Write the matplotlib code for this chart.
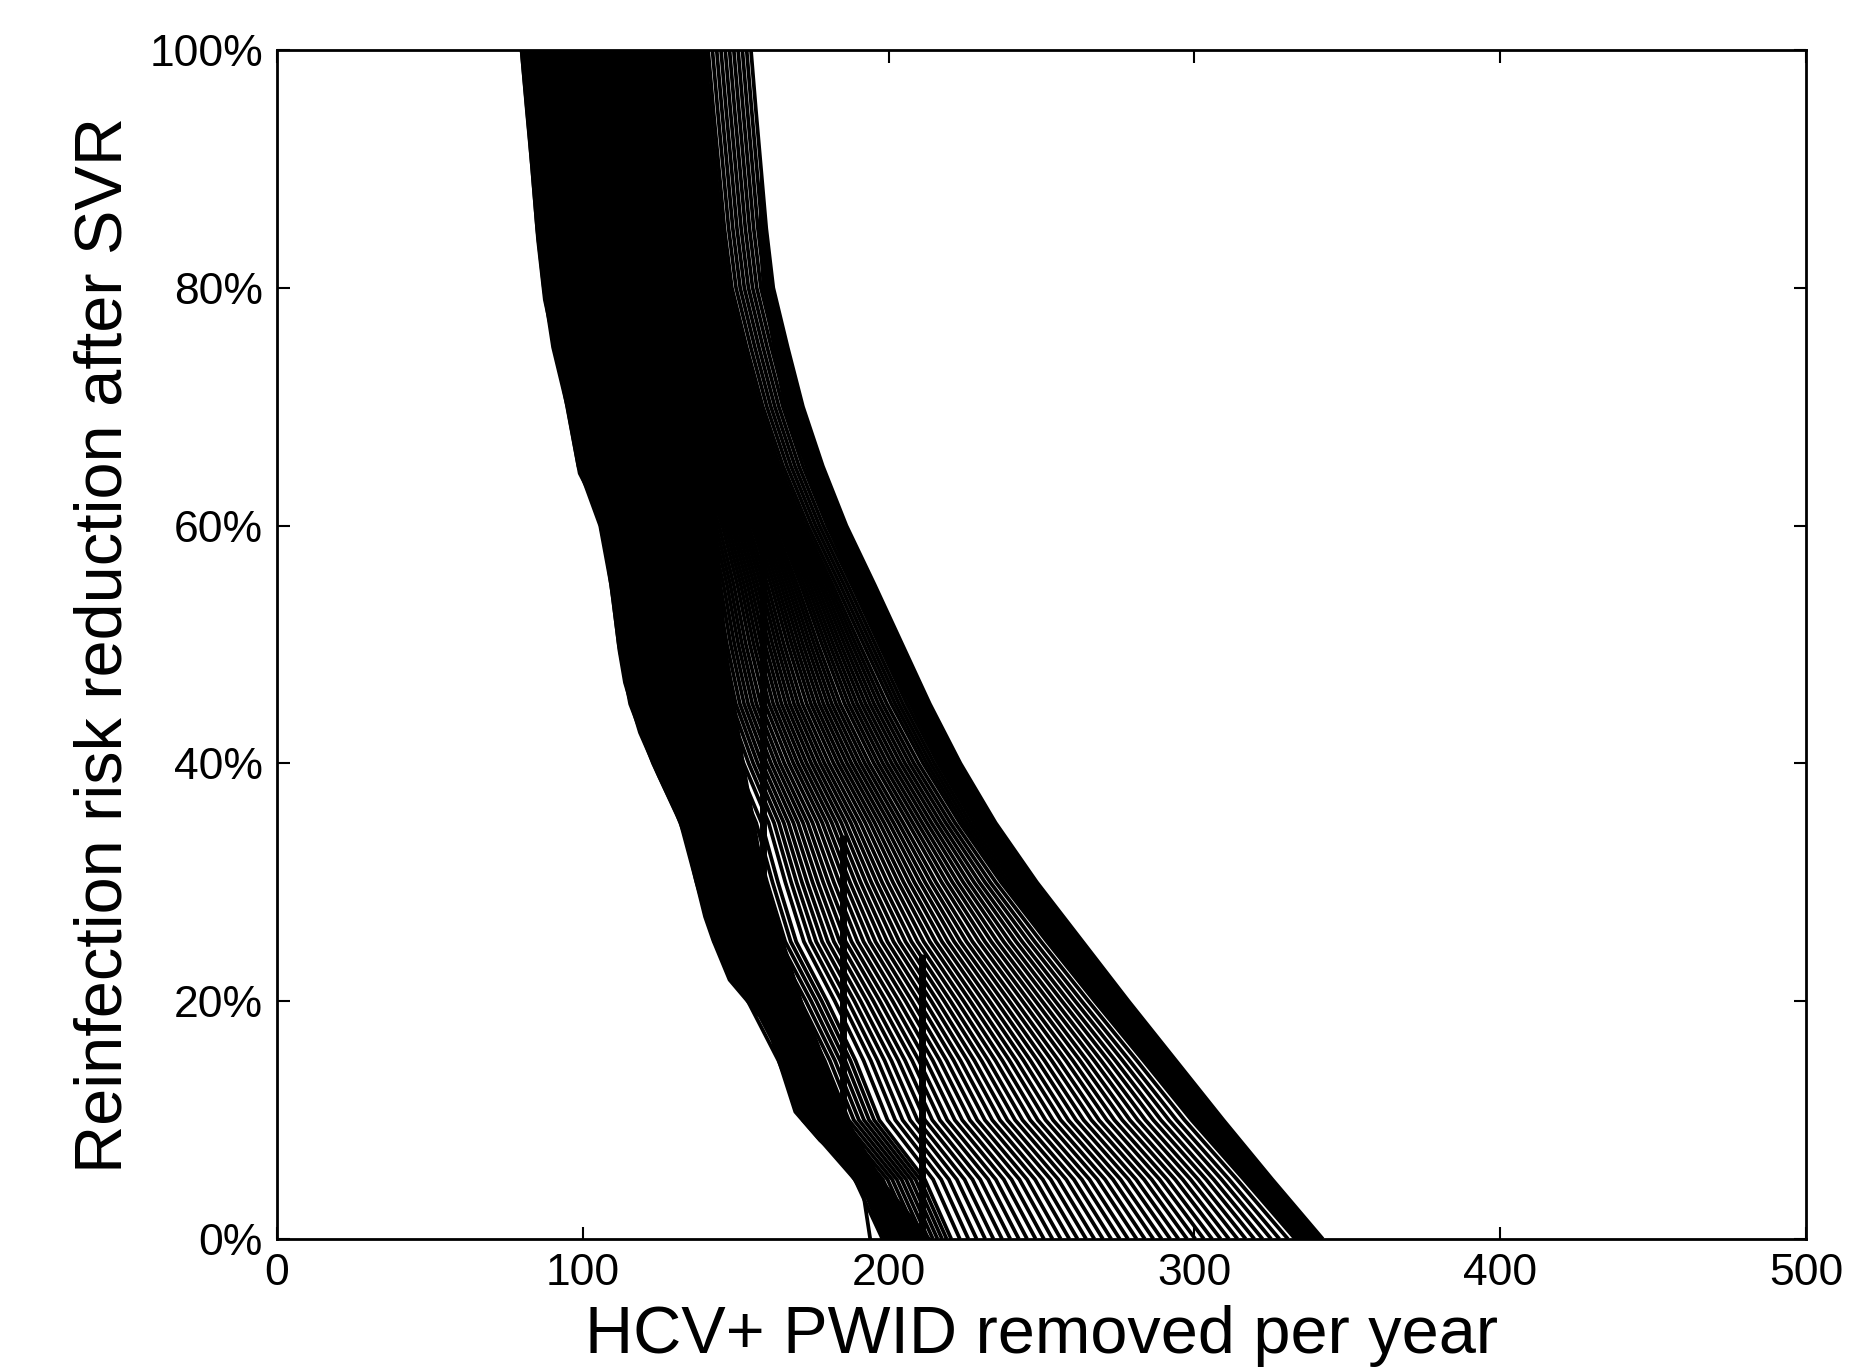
import matplotlib
matplotlib.use("Agg")
import matplotlib.pyplot as plt
import numpy as np

plt.rcParams['font.family'] = ['Liberation Sans', 'DejaVu Sans']

# ---------------- data ----------------
# common y levels (reinfection risk reduction, %)
y_grid = [0, 5, 10, 15, 20, 25, 30, 35, 40, 45, 50, 55, 60, 65, 70, 75, 80, 85, 90, 95, 100]

# left and right envelope of the bundle at those levels (x = HCV+ PWID removed / year)
left_grid_x = [198, 189, 172, 164, 154, 143, 137.2, 132, 123, 115.5, 111.8,
               109.3, 105.7, 98.6, 95, 90.3, 87.3, 85.1, 83.5, 81.7, 80]
right_grid_x = [342, 325.5, 309.5, 294, 278.5, 263.5, 248.5, 235, 223.5, 213.5, 204.5,
                195.5, 186.2, 178.5, 172, 167, 162.3, 160, 158.3, 156.6, 155]

# individual scenario lines: x where each line meets 100% (top) and 0% (bottom)
line_top_x = [155, 153.6, 152.2, 150.8, 149.4, 148, 146.6, 145.2, 143.8, 142.4, 141,
              140.0, 139.3, 138.6, 137.9, 137.2, 136.5, 135.8, 135.1, 134.4, 133.7,
              133.0, 132.2, 131.5, 130.8, 130.1, 129.4, 128.7, 128.0, 127.3, 126.6,
              125.8, 125.1, 124.4, 123.7, 123.0, 122.3, 121.6, 120.9, 120.2, 119.5,
              118.7, 118.0, 117.3, 116.6, 115.9, 115.2, 114.5, 113.8, 113.0, 112.0,
              110, 108, 106, 104, 102, 100, 98, 96, 94, 92, 90, 88, 86, 84, 82, 80]
line_bottom_x = [342, 341.1, 340.2, 339.3, 338.4, 337.5, 336.6, 335.7, 334.8, 333.9, 333,
                 330.6, 327.8, 325.1, 322.3, 319.6, 316.8, 314.1, 311.3, 308.6, 305.8,
                 303.1, 300.3, 297.6, 294.8, 292.1, 289.3, 286.6, 283.8, 281.1, 278.3,
                 275.6, 272.8, 270.1, 267.3, 264.6, 261.8, 259.1, 256.3, 253.6, 250.8,
                 248.1, 245.3, 242.6, 239.8, 237.1, 234.3, 231.6, 228.8, 226.1, 223.3,
                 220.5, 219.0, 217.5, 216.0, 214.5, 213.0, 211.5, 210.0, 208.5, 207.0,
                 205.5, 204.0, 202.5, 201.0, 199.5, 198.0]

# leftmost (jagged) scenario line, vertex by vertex
left_edge_y = [100, 92.4, 84, 79, 73.3, 64.4, 62.7, 61, 57.7, 53.7, 49.5, 46.8, 42.6,
               38.9, 35.8, 33.6, 30.2, 27.1, 25.1, 21.8, 20.1, 18.7, 16.7, 10.7, 8.3,
               6.9, 5.2, 3.9, 0]
left_edge_x = [80, 82.7, 85.4, 87.6, 92.5, 99, 102.4, 105, 107.8, 110, 112, 113.8, 118.7,
               125, 130.7, 134, 137, 140, 142.7, 148, 153.6, 158, 162, 169.5, 177.6,
               184, 188.4, 191.7, 194]

# right limit of the area where the lines overlap into solid black (left part)
solid_y = [100, 90, 80, 70, 60, 50, 40, 30, 20, 10, 5, 0]
solid_x = [141, 142, 143, 143, 144, 147, 153, 160, 172, 187, 198, 214]

# solid band along the right envelope: inner limit
band_y = [90, 85, 80, 70, 60, 50, 40, 30, 20, 10, 0]
band_inner_x = [158, 157.5, 158.5, 165.5, 179.5, 196.5, 216.5, 240.5, 271.5, 303, 334.5]

# vertical stacks of overlapping segments
bar_x = [159, 185, 211]
bar_y0 = [18.7, 6.9, 0]
bar_y1 = [65.5, 34, 24]

x_ticks = [0, 100, 200, 300, 400, 500]
x_tick_labels = ['0', '100', '200', '300', '400', '500']
y_ticks = [0, 20, 40, 60, 80, 100]
y_tick_labels = ['0%', '20%', '40%', '60%', '80%', '100%']

x_label = 'HCV+ PWID removed per year'
y_label = 'Reinfection risk reduction after SVR'

# ---------------- drawing ----------------
fig = plt.figure(figsize=(18.75, 13.71), dpi=100)
ax = fig.add_axes([0.1477, 0.0963, 0.8155, 0.8672])

L = np.array(left_grid_x)
R = np.array(right_grid_x)
pL = (L - L[-1]) / (L[0] - L[-1])
pR = (R - R[-1]) / (R[0] - R[-1])

# solid overlap region on the left
poly_x = list(left_edge_x[:-1]) + [left_grid_x[0]] + solid_x[::-1]
poly_y = list(left_edge_y[:-1]) + [0] + solid_y[::-1]
ax.fill(poly_x, poly_y, color='black', lw=0, zorder=2)

# solid band along the right envelope
outer = [(x, y) for x, y in zip(right_grid_x, y_grid) if y <= band_y[0]]
bx = [p[0] for p in outer] + band_inner_x
by = [p[1] for p in outer] + band_y
ax.fill(bx, by, color='black', lw=0, zorder=2)

lw = 2.7
for t, b in zip(line_top_x, line_bottom_x):
    w = min(max((b - L[0]) / (R[0] - L[0]), 0.0), 1.0)
    p = w * pR + (1 - w) * pL
    xs = t + (b - t) * p
    ax.plot(xs, y_grid, color='black', lw=lw, solid_capstyle='butt',
            solid_joinstyle='round', zorder=3)

ax.plot(left_edge_x, left_edge_y, color='black', lw=lw, zorder=3)

for x0, y0, y1 in zip(bar_x, bar_y0, bar_y1):
    ax.plot([x0, x0], [y0, y1], color='black', lw=5, solid_capstyle='butt', zorder=3)

ax.set_xlim(0, 500)
ax.set_ylim(0, 100)
ax.set_xticks(x_ticks)
ax.set_xticklabels(x_tick_labels)
ax.set_yticks(y_ticks)
ax.set_yticklabels(y_tick_labels)

ax.tick_params(direction='in', length=9, width=1.5, top=True, right=True,
               labelsize=32, pad=10, colors='black')
for s in ax.spines.values():
    s.set_linewidth(2)
    s.set_zorder(5)

ax.set_xlabel(x_label, fontsize=48, labelpad=8)
ax.set_ylabel(y_label, fontsize=48, labelpad=10)

fig.savefig('out.png', dpi=100, facecolor='white')
